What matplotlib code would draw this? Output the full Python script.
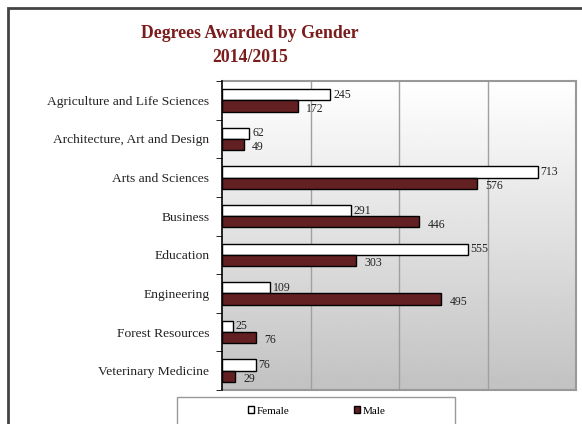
import numpy as np
import matplotlib
matplotlib.use("Agg")
import matplotlib.pyplot as plt
from matplotlib.patches import Rectangle, Patch

plt.rcParams['font.family'] = ['Liberation Serif', 'DejaVu Serif']

categories = ["Agriculture and Life Sciences", "Architecture, Art and Design",
              "Arts and Sciences", "Business", "Education", "Engineering",
              "Forest Resources", "Veterinary Medicine"]
female = [245, 62, 713, 291, 555, 109, 25, 76]
male = [172, 49, 576, 446, 303, 495, 76, 29]
series_names = ["Female", "Male"]

W, H = 582, 424
fig = plt.figure(figsize=(W / 100, H / 100), dpi=100)

# outer frame
fig.patches.append(Rectangle((8 / W, -0.1), 1.2, (H - 8) / H + 0.1, transform=fig.transFigure,
                             fill=False, edgecolor="#444444", linewidth=2))

ax = fig.add_axes([222 / W, 1 - 390 / H, (576 - 222) / W, (390 - 81) / H])

# gradient background
grad = np.linspace(1.0, 0.76, 256).reshape(-1, 1)
ax.imshow(grad, extent=[0, 800, len(categories) - 0.5, -0.5], cmap="gray", vmin=0, vmax=1,
          aspect="auto", zorder=0)

y = np.arange(len(categories))
bh = 0.29
ax.barh(y - bh / 2, female, height=bh, color="white", edgecolor="black", linewidth=1, zorder=3)
ax.barh(y + bh / 2, male, height=bh, color="#632022", edgecolor="black", linewidth=1, zorder=3)

for yi, v in zip(y, female):
    ax.annotate(str(v), (v, yi - bh / 2), xytext=(2, 0), textcoords="offset points",
                va="center", ha="left", fontsize=8.5, color="#222222", zorder=4)
for yi, v in zip(y, male):
    ax.annotate(str(v), (v, yi + bh / 2), xytext=(6, -2), textcoords="offset points",
                va="center", ha="left", fontsize=8.5, color="#222222", zorder=4)

ax.set_xlim(0, 800)
ax.set_ylim(len(categories) - 0.5, -0.5)
ax.set_xticks([200, 400, 600])
ax.set_xticklabels([])
ax.tick_params(axis="x", length=0)
ax.grid(axis="x", color="#a0a0a0", linewidth=1, zorder=1)

ax.set_yticks(y)
ax.set_yticklabels(categories, fontsize=9.7, color="#222222")
ax.tick_params(axis="y", which="major", length=0, pad=9)
ax.set_yticks(np.arange(len(categories) + 1) - 0.5, minor=True)
ax.tick_params(axis="y", which="minor", length=4, color="black", direction="out")

for s in ["top", "right", "bottom"]:
    ax.spines[s].set_color("#999999")
    ax.spines[s].set_linewidth(1.5)
ax.spines["left"].set_color("black")
ax.spines["left"].set_linewidth(1.2)
ax.spines["left"].set_zorder(5)

fig.text(250 / W, 1 - 33 / H, "Degrees Awarded by Gender", ha="center", va="center",
         fontsize=12.8, fontweight="bold", color="#7a1c1c")
fig.text(250 / W, 1 - 58 / H, "2014/2015", ha="center", va="center",
         fontsize=12.8, fontweight="bold", color="#7a1c1c")

# legend box
fig.patches.append(Rectangle((177 / W, -0.1), (455 - 177) / W, 0.1 + 1 - 397 / H,
                             transform=fig.transFigure, fill=False, edgecolor="#999999", linewidth=1))
handles = [Patch(facecolor="white", edgecolor="black", linewidth=1),
           Patch(facecolor="#632022", edgecolor="black", linewidth=1)]
fig.legend(handles, series_names, loc="center left", bbox_to_anchor=(242 / W, 1 - 411 / H),
           ncol=2, frameon=False, fontsize=8, handlelength=0.6, handleheight=0.6,
           handletextpad=0.2, columnspacing=5.8, borderpad=0)

fig.savefig("out.png", dpi=100)
